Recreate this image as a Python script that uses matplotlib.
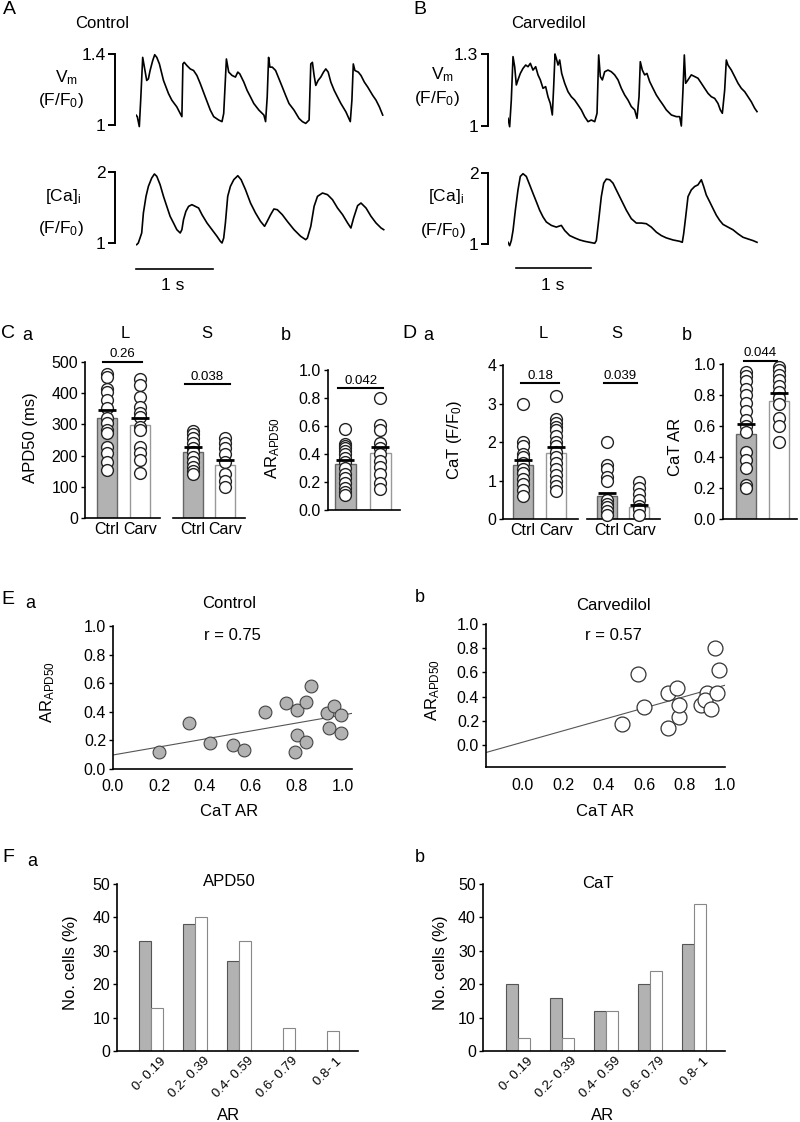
import matplotlib
matplotlib.use('Agg')
import matplotlib.pyplot as plt
import numpy as np

plt.rcParams['font.family'] = ['Liberation Sans', 'DejaVu Sans']
plt.rcParams['mathtext.fontset'] = 'custom'
plt.rcParams['mathtext.rm'] = 'Liberation Sans'
plt.rcParams['mathtext.it'] = 'Liberation Sans:italic'
plt.rcParams['mathtext.default'] = 'regular'

W, H = 800, 1122

# ---- A / B: optical traces (time in s, F/F0) ----
ctrl_vm_t = [0.000, 0.017, 0.043, 0.061, 0.087, 0.109, 0.139, 0.161, 0.183, 0.217, 0.243, 0.270, 0.304, 0.357,
             0.422, 0.465, 0.530, 0.574, 0.596, 0.609, 0.626, 0.661, 0.704, 0.748, 0.791, 0.835, 0.900, 0.965,
             1.009, 1.074, 1.117, 1.139, 1.174, 1.204, 1.248, 1.291, 1.322, 1.348, 1.400, 1.443, 1.487, 1.530,
             1.596, 1.661, 1.683, 1.704, 1.722, 1.739, 1.770, 1.813, 1.857, 1.900, 1.943, 1.987, 2.052, 2.117,
             2.161, 2.204, 2.248, 2.270, 2.291, 2.313, 2.335, 2.365, 2.400, 2.435, 2.465, 2.496, 2.530, 2.574,
             2.617, 2.661, 2.726, 2.783, 2.804, 2.822, 2.843, 2.887, 2.922, 2.965, 3.009, 3.074, 3.117, 3.161, 3.204]
ctrl_vm = [1.056, 1.047, 0.991, 1.140, 1.381, 1.326, 1.251, 1.260, 1.307, 1.363, 1.396, 1.381, 1.344, 1.251,
           1.177, 1.140, 1.102, 1.065, 1.047, 1.344, 1.353, 1.335, 1.316, 1.307, 1.279, 1.233, 1.158, 1.084,
           1.047, 1.028, 1.019, 1.065, 1.372, 1.298, 1.279, 1.270, 1.298, 1.288, 1.242, 1.195, 1.158, 1.121,
           1.084, 1.056, 1.019, 1.158, 1.381, 1.326, 1.326, 1.307, 1.260, 1.214, 1.167, 1.121, 1.084, 1.037,
           1.019, 1.009, 1.028, 1.344, 1.353, 1.279, 1.223, 1.251, 1.270, 1.298, 1.316, 1.298, 1.242, 1.195,
           1.158, 1.121, 1.074, 1.019, 1.140, 1.344, 1.307, 1.298, 1.279, 1.242, 1.214, 1.167, 1.140, 1.102, 1.056]

ctrl_ca_t = [0.009, 0.030, 0.052, 0.074, 0.096, 0.130, 0.161, 0.204, 0.239, 0.270, 0.313, 0.357, 0.400, 0.443,
             0.487, 0.530, 0.574, 0.596, 0.617, 0.648, 0.683, 0.726, 0.770, 0.813, 0.857, 0.922, 0.987, 1.052,
             1.096, 1.117, 1.139, 1.161, 1.191, 1.226, 1.270, 1.322, 1.365, 1.422, 1.487, 1.552, 1.617, 1.670,
             1.704, 1.748, 1.791, 1.835, 1.900, 1.965, 2.052, 2.139, 2.204, 2.226, 2.270, 2.313, 2.357, 2.422,
             2.487, 2.552, 2.617, 2.683, 2.748, 2.791, 2.826, 2.878, 2.922, 2.987, 3.052, 3.117, 3.183, 3.217]
ctrl_ca = [0.977, 1.000, 1.070, 1.141, 1.423, 1.657, 1.798, 1.915, 1.972, 1.939, 1.822, 1.657, 1.516, 1.376,
           1.282, 1.188, 1.141, 1.188, 1.329, 1.446, 1.516, 1.540, 1.516, 1.493, 1.399, 1.282, 1.188, 1.094,
           1.023, 1.000, 1.070, 1.282, 1.657, 1.798, 1.892, 1.948, 1.892, 1.751, 1.563, 1.423, 1.305, 1.235,
           1.305, 1.399, 1.479, 1.469, 1.399, 1.305, 1.188, 1.094, 1.047, 1.070, 1.235, 1.516, 1.657, 1.704,
           1.681, 1.610, 1.493, 1.399, 1.282, 1.211, 1.352, 1.526, 1.563, 1.493, 1.376, 1.282, 1.211, 1.188]

carv_vm_t = [0.000, 0.022, 0.044, 0.067, 0.089, 0.111, 0.133, 0.164, 0.200, 0.236, 0.267, 0.298, 0.333, 0.369,
             0.400, 0.431, 0.467, 0.502, 0.533, 0.564, 0.591, 0.609, 0.627, 0.644, 0.667, 0.689, 0.716, 0.756,
             0.800, 0.844, 0.889, 0.933, 0.978, 1.022, 1.067, 1.111, 1.156, 1.187, 1.209, 1.231, 1.258, 1.289,
             1.333, 1.378, 1.422, 1.467, 1.511, 1.556, 1.600, 1.644, 1.689, 1.720, 1.747, 1.764, 1.791, 1.822,
             1.853, 1.889, 1.933, 1.978, 2.022, 2.067, 2.111, 2.178, 2.244, 2.289, 2.311, 2.333, 2.351, 2.369,
             2.400, 2.444, 2.489, 2.533, 2.578, 2.622, 2.667, 2.711, 2.756, 2.800, 2.831, 2.858, 2.889, 2.911,
             2.933, 2.978, 3.022, 3.067, 3.111, 3.156, 3.200, 3.244, 3.289, 3.320]
carv_vm = [1.032, 0.997, 1.108, 1.289, 1.247, 1.171, 1.192, 1.219, 1.240, 1.254, 1.247, 1.261, 1.233, 1.247,
           1.213, 1.192, 1.157, 1.164, 1.122, 1.094, 1.046, 1.164, 1.300, 1.282, 1.254, 1.275, 1.219, 1.178,
           1.143, 1.122, 1.108, 1.088, 1.067, 1.039, 1.018, 1.025, 1.018, 1.053, 1.296, 1.206, 1.192, 1.226,
           1.233, 1.226, 1.213, 1.192, 1.157, 1.129, 1.108, 1.081, 1.067, 1.032, 1.122, 1.268, 1.233, 1.213,
           1.219, 1.185, 1.157, 1.129, 1.108, 1.088, 1.067, 1.046, 1.039, 1.039, 1.000, 1.150, 1.296, 1.178,
           1.192, 1.213, 1.206, 1.199, 1.178, 1.157, 1.136, 1.122, 1.115, 1.094, 1.067, 1.053, 1.150, 1.275,
           1.254, 1.233, 1.206, 1.178, 1.157, 1.143, 1.122, 1.101, 1.074, 1.060]

carv_ca_t = [0.000, 0.022, 0.044, 0.067, 0.098, 0.133, 0.164, 0.200, 0.244, 0.289, 0.333, 0.378, 0.422, 0.467,
             0.511, 0.578, 0.644, 0.711, 0.756, 0.822, 0.889, 0.956, 1.022, 1.089, 1.156, 1.178, 1.209, 1.244,
             1.276, 1.311, 1.356, 1.400, 1.444, 1.511, 1.578, 1.644, 1.711, 1.778, 1.844, 1.911, 1.978, 2.044,
             2.111, 2.200, 2.289, 2.324, 2.342, 2.369, 2.400, 2.444, 2.489, 2.533, 2.578, 2.609, 2.644, 2.689,
             2.733, 2.778, 2.822, 2.867, 2.933, 3.000, 3.067, 3.133, 3.200, 3.267, 3.320]
carv_ca = [1.024, 0.976, 1.048, 1.190, 1.476, 1.762, 1.952, 1.990, 1.952, 1.833, 1.714, 1.595, 1.476, 1.381,
           1.310, 1.262, 1.238, 1.262, 1.190, 1.119, 1.086, 1.057, 1.038, 1.024, 1.010, 1.048, 1.333, 1.667,
           1.857, 1.914, 1.905, 1.857, 1.762, 1.619, 1.476, 1.357, 1.295, 1.295, 1.286, 1.238, 1.167, 1.119,
           1.086, 1.057, 1.038, 1.024, 1.143, 1.381, 1.667, 1.762, 1.810, 1.833, 1.905, 1.810, 1.690, 1.595,
           1.500, 1.405, 1.333, 1.276, 1.238, 1.200, 1.143, 1.095, 1.071, 1.048, 1.024]

# ---- C: APD50 and AR of APD50 ----
groups = ['Ctrl', 'Carv']
apd_L_bar, apd_L_sem = [320, 298], [25, 22]
apd_S_bar, apd_S_sem = [213, 170], [13, 15]
apd_L_ctrl = [463, 452, 415, 404, 378, 351, 319, 303, 282, 271, 229, 207, 181, 154]
apd_L_carv = [447, 426, 388, 356, 335, 324, 293, 282, 229, 207, 186, 144]
apd_S_ctrl = [280, 270, 255, 240, 225, 210, 195, 180, 165, 150, 140]
apd_S_carv = [255, 240, 225, 205, 180, 140, 120, 100]
p_apd = ['0.26', '0.038']

ar_apd_bar, ar_apd_sem = [0.33, 0.41], [0.03, 0.04]
ar_apd_ctrl = [0.58, 0.47, 0.46, 0.44, 0.42, 0.40, 0.37, 0.34, 0.30, 0.26, 0.23, 0.19, 0.16, 0.13, 0.11]
ar_apd_carv = [0.80, 0.61, 0.57, 0.48, 0.44, 0.40, 0.35, 0.31, 0.26, 0.19, 0.15]
p_ar_apd = '0.042'

# ---- D: CaT amplitude and CaT AR ----
cat_L_bar, cat_L_sem = [1.40, 1.72], [0.12, 0.15]
cat_S_bar, cat_S_sem = [0.60, 0.30], [0.07, 0.07]
cat_L_ctrl = [3.0, 2.0, 1.9, 1.7, 1.6, 1.45, 1.3, 1.2, 1.05, 0.9, 0.75, 0.6]
cat_L_carv = [3.2, 2.6, 2.5, 2.4, 2.3, 2.15, 2.0, 1.9, 1.75, 1.6, 1.45, 1.3, 1.15, 1.0, 0.85, 0.72]
cat_S_ctrl = [2.0, 1.4, 1.3, 1.1, 1.0, 0.5, 0.4, 0.3, 0.2, 0.1]
cat_S_carv = [0.95, 0.8, 0.65, 0.5, 0.35, 0.25, 0.1]
p_cat = ['0.18', '0.039']

cat_ar_bar, cat_ar_sem = [0.55, 0.76], [0.065, 0.05]
cat_ar_ctrl = [0.95, 0.92, 0.89, 0.84, 0.80, 0.75, 0.70, 0.64, 0.60, 0.56, 0.43, 0.38, 0.33, 0.22, 0.20]
cat_ar_carv = [0.98, 0.96, 0.93, 0.90, 0.86, 0.82, 0.78, 0.74, 0.65, 0.60, 0.50]
p_cat_ar = '0.044'

# ---- E: correlation CaT AR vs AR APD50 ----
e_ctrl_x = [0.20, 0.33, 0.42, 0.52, 0.57, 0.66, 0.75, 0.80, 0.84, 0.86, 0.80, 0.84, 0.79, 0.93, 0.96, 0.99, 0.94, 0.99]
e_ctrl_y = [0.12, 0.32, 0.18, 0.17, 0.13, 0.40, 0.46, 0.41, 0.47, 0.58, 0.24, 0.19, 0.12, 0.39, 0.44, 0.38, 0.29, 0.25]
e_ctrl_fit = (0.098, 0.28)   # intercept, slope
e_carv_x = [0.49, 0.57, 0.60, 0.72, 0.76, 0.72, 0.77, 0.77, 0.88, 0.91, 0.90, 0.93, 0.95, 0.97, 0.96]
e_carv_y = [0.17, 0.59, 0.31, 0.43, 0.47, 0.14, 0.23, 0.33, 0.33, 0.43, 0.37, 0.30, 0.80, 0.62, 0.43]
e_carv_fit = (0.024, 0.47)

# ---- F: AR distributions ----
ar_bins = ['0- 0.19', '0.2- 0.39', '0.4- 0.59', '0.6- 0.79', '0.8- 1']
f_apd_ctrl = [33, 38, 27, 0, 0]
f_apd_carv = [13, 40, 33, 7, 6]
f_cat_ctrl = [20, 16, 12, 20, 32]
f_cat_carv = [4, 4, 12, 24, 44]

GRAY = '#b2b2b2'
FS = 12       # labels
TFS = 11.5    # tick labels
fig = plt.figure(figsize=(W / 100, H / 100), dpi=100)


def axbox(xpx, xval, ypx, yval, xlim, ylim):
    # place an axes so that given data values land on given pixel positions
    sx = (xpx[1] - xpx[0]) / (xval[1] - xval[0])
    sy = (ypx[1] - ypx[0]) / (yval[1] - yval[0])
    left = xpx[0] + (xlim[0] - xval[0]) * sx
    right = xpx[0] + (xlim[1] - xval[0]) * sx
    top = ypx[0] + (ylim[1] - yval[0]) * sy
    bottom = ypx[0] + (ylim[0] - yval[0]) * sy
    ax = fig.add_axes([left / W, 1 - bottom / H, (right - left) / W, (bottom - top) / H])
    ax.set_xlim(xlim)
    ax.set_ylim(ylim)
    ax.patch.set_alpha(0)
    for s in ['top', 'right']:
        ax.spines[s].set_visible(False)
    ax.spines['left'].set_linewidth(1.2)
    ax.spines['bottom'].set_linewidth(1.2)
    ax.tick_params(labelsize=TFS, width=1, length=3, direction='out', pad=2)
    return ax


def txt(x, y, s, size=FS, ha='center', rot=0, **kw):
    fig.text(x / W, 1 - y / H, s, fontsize=size, ha=ha, va='center', rotation=rot, **kw)


def trace_ax(xpx, ypx, yval, xlim, ylim, t, v, out_pt, ticklabels):
    ax = axbox(xpx, (0, 1), ypx, yval, xlim, ylim)
    ax.plot(t, v, color='black', lw=1.2)
    ax.spines['bottom'].set_visible(False)
    ax.spines['left'].set_position(('outward', out_pt))
    ax.spines['left'].set_bounds(yval[0], yval[1])
    ax.spines['left'].set_linewidth(1.4)
    ax.set_xticks([])
    ax.set_yticks(list(yval))
    ax.set_yticklabels(ticklabels)
    ax.tick_params(axis='y', length=5, width=1.4, labelsize=12.5)
    return ax


# panel A
trace_ax((136, 213), (125, 54), (1, 1.4), (0, 3.25), (0.97, 1.42), ctrl_vm_t, ctrl_vm, 15, ['1', '1.4'])
ax = trace_ax((136, 213), (243, 172), (1, 2), (0, 3.25), (0.95, 2.05), ctrl_ca_t, ctrl_ca, 15, ['1', '2'])
ax.plot([0, 1], [0.634, 0.634], color='black', lw=1.2, clip_on=False)
txt(173, 285, '1 s', 12.5)
txt(3, 10, 'A', 14, ha='left')
txt(102, 23, 'Control', 12)
txt(66, 78, r'V$_{\mathrm{m}}$', 12.5)
txt(61, 101, r'(F/F$_{0}$)', 12.5)
txt(63, 196, r'[Ca]$_{\mathrm{i}}$', 12.5)
txt(61, 228, r'(F/F$_{0}$)', 12.5)

# panel B
trace_ax((508, 583), (126, 54), (1, 1.3), (0, 3.35), (0.98, 1.32), carv_vm_t, carv_vm, 14.4, ['1', '1.3'])
ax = trace_ax((508, 583), (244, 173), (1, 2), (0, 3.35), (0.95, 2.05), carv_ca_t, carv_ca, 14.4, ['1', '2'])
ax.plot([0.107, 1.107], [0.66, 0.66], color='black', lw=1.2, clip_on=False)
txt(553, 285, '1 s', 12.5)
txt(413, 10, 'B', 14, ha='left')
txt(548, 23, 'Carvedilol', 12)
txt(442, 75, r'V$_{\mathrm{m}}$', 12.5)
txt(437, 98, r'(F/F$_{0}$)', 12.5)
txt(446, 197, r'[Ca]$_{\mathrm{i}}$', 12.5)
txt(443, 230, r'(F/F$_{0}$)', 12.5)


def bar_panel(ax, bars, sems, pts_c, pts_v, show_y=True):
    x = np.arange(2)
    ax.bar(x, bars, width=0.6, color=[GRAY, 'white'], edgecolor=['#666666', '#999999'], linewidth=1, zorder=1)
    ax.vlines(x, bars, np.array(bars) + np.array(sems), color='black', lw=1.5, zorder=2)
    for i, pts in enumerate([pts_c, pts_v]):
        ax.plot([i] * len(pts), pts, 'o', mfc='white', mec='#222222', ms=8.5, mew=1, zorder=3, clip_on=False)
    ax.hlines(np.array(bars) + np.array(sems), x - 0.27, x + 0.27, color='black', lw=2, zorder=4)
    ax.set_xticks(x)
    ax.set_xticklabels(groups)
    ax.tick_params(axis='x', length=0, labelsize=11.5, pad=3)
    if not show_y:
        ax.spines['left'].set_visible(False)
        ax.set_yticks([])


def sig(ax, x0, x1, y, p, dy):
    ax.plot([x0, x1], [y, y], color='black', lw=1.5, clip_on=False)
    ax.text((x0 + x1) / 2, y + dy, p, ha='center', va='bottom', fontsize=9.5)


# panel C
ax = axbox((107, 140), (0, 1), (518, 362), (0, 500), (-0.67, 1.6), (0, 500))
bar_panel(ax, apd_L_bar, apd_L_sem, apd_L_ctrl, apd_L_carv)
ax.set_yticks(range(0, 501, 100))
sig(ax, -0.12, 1.06, 500, p_apd[0], 5)
ax = axbox((193, 225), (0, 1), (518, 362), (0, 500), (-0.625, 1.625), (0, 500))
bar_panel(ax, apd_S_bar, apd_S_sem, apd_S_ctrl, apd_S_carv, show_y=False)
sig(ax, -0.25, 1.15, 428, p_apd[1], 5)
txt(1, 333, 'C', 14, ha='left')
txt(22, 336, 'a', 13, ha='left')
txt(125, 333, 'L', FS)
txt(207, 333, 'S', FS)
txt(30, 438, 'APD50 (ms)', FS, rot=90)

ax = axbox((345, 380), (0, 1), (510, 370), (0, 1), (-0.49, 1.57), (0, 1))
bar_panel(ax, ar_apd_bar, ar_apd_sem, ar_apd_ctrl, ar_apd_carv)
ax.set_xticks([-0.03, 1.05])
ax.set_yticks(np.arange(0, 1.01, 0.2))
ax.set_yticklabels(['%.1f' % v for v in np.arange(0, 1.01, 0.2)])
sig(ax, -0.2, 1.09, 0.87, p_ar_apd, 0.01)
txt(281, 335, 'b', 13, ha='left')
txt(273, 448, r'AR$_{\mathrm{APD50}}$', FS, rot=90)

# panel D
ax = axbox((523, 556), (0, 1), (519, 365), (0, 4), (-0.6, 1.67), (0, 4))
bar_panel(ax, cat_L_bar, cat_L_sem, cat_L_ctrl, cat_L_carv)
ax.set_yticks(range(0, 5))
sig(ax, -0.06, 1.09, 3.52, p_cat[0], 0.04)
ax = axbox((607, 639), (0, 1), (519, 365), (0, 4), (-0.625, 1.66), (0, 4))
bar_panel(ax, cat_S_bar, cat_S_sem, cat_S_ctrl, cat_S_carv, show_y=False)
sig(ax, -0.1, 0.94, 3.52, p_cat[1], 0.04)
txt(402, 333, 'D', 14, ha='left')
txt(423, 336, 'a', 13, ha='left')
txt(543, 333, 'L', FS)
txt(617, 333, 'S', FS)
txt(455, 440, r'CaT (F/F$_{0}$)', FS, rot=90)

ax = axbox((746, 779), (0, 1), (519, 364), (0, 1), (-0.7, 1.55), (0, 1))
bar_panel(ax, cat_ar_bar, cat_ar_sem, cat_ar_ctrl, cat_ar_carv)
ax.set_xticks([-0.03, 1.05])
ax.set_yticks(np.arange(0, 1.01, 0.2))
ax.set_yticklabels(['%.1f' % v for v in np.arange(0, 1.01, 0.2)])
sig(ax, -0.06, 0.94, 1.02, p_cat_ar, 0.01)
txt(682, 335, 'b', 13, ha='left')
txt(676, 447, 'CaT AR', FS, rot=90)

# panel E
ticks01 = np.arange(0, 1.01, 0.2)
labels01 = ['%.1f' % v for v in ticks01]
ax = axbox((113, 343), (0, 1), (769, 626), (0, 1), (0, 1.04), (0, 1))
ax.scatter(e_ctrl_x, e_ctrl_y, s=85, c=GRAY, edgecolors='#444444', linewidths=0.8, zorder=3, clip_on=False)
xx = np.array(ax.get_xlim())
ax.plot(xx, e_ctrl_fit[0] + e_ctrl_fit[1] * xx, color='#555555', lw=0.8, zorder=2)
ax.set_xticks(ticks01)
ax.set_xticklabels(labels01)
ax.set_yticks(ticks01)
ax.set_yticklabels(labels01)
ax.tick_params(axis='x', length=0, pad=7)
txt(1, 600, 'E', 14, ha='left')
txt(25, 603, 'a', 13, ha='left')
txt(229, 603, 'Control', FS)
txt(232, 635, 'r = 0.75', FS)
txt(48, 692, r'AR$_{\mathrm{APD50}}$', FS, rot=90)
txt(229, 811, 'CaT AR', FS)

ax = axbox((523, 725), (0, 1), (745, 624), (0, 1), (-0.183, 1.0), (-0.18, 1.0))
ax.scatter(e_carv_x, e_carv_y, s=115, c='white', edgecolors='#333333', linewidths=0.9, zorder=3, clip_on=False)
xx = np.array(ax.get_xlim())
ax.plot(xx, e_carv_fit[0] + e_carv_fit[1] * xx, color='#555555', lw=0.8, zorder=2)
ax.set_xticks(ticks01)
ax.set_xticklabels(labels01)
ax.set_yticks(ticks01)
ax.set_yticklabels(labels01)
ax.tick_params(axis='x', length=0, pad=8)
txt(415, 598, 'b', 13, ha='left')
txt(613, 606, 'Carvedilol', FS)
txt(613, 636, 'r = 0.57', FS)
txt(433, 690, r'AR$_{\mathrm{APD50}}$', FS, rot=90)
txt(605, 811, 'CaT AR', FS)


# panel F
def hist_panel(ax, ctrl, carv):
    idx = np.arange(len(ar_bins))
    ax.bar(idx - 0.135, ctrl, 0.26, color=GRAY, edgecolor='#555555', linewidth=0.8)
    ax.bar(idx + 0.135, carv, 0.26, color='white', edgecolor='#888888', linewidth=0.8)
    ax.set_yticks(range(0, 51, 10))
    ax.set_xticks(idx + 0.2)
    ax.set_xticklabels(ar_bins, rotation=45, ha='right', rotation_mode='anchor', fontsize=9.5)
    ax.tick_params(axis='x', length=0, pad=3)


ax = axbox((151, 195), (0, 1), (1051, 884), (0, 50), (-0.77, 4.7), (0, 50))
hist_panel(ax, f_apd_ctrl, f_apd_carv)
txt(2, 858, 'F', 14, ha='left')
txt(27, 862, 'a', 13, ha='left')
txt(229, 882, 'APD50', FS)
txt(70, 963, 'No. cells (%)', FS, rot=90)
txt(229, 1115, 'AR', FS)

ax = axbox((518, 562), (0, 1), (1051, 884), (0, 50), (-0.8, 4.7), (0, 50))
hist_panel(ax, f_cat_ctrl, f_cat_carv)
txt(415, 857, 'b', 13, ha='left')
txt(598, 883, 'CaT', FS)
txt(440, 963, 'No. cells (%)', FS, rot=90)
txt(603, 1115, 'AR', FS)

fig.savefig('out.png', dpi=100)
